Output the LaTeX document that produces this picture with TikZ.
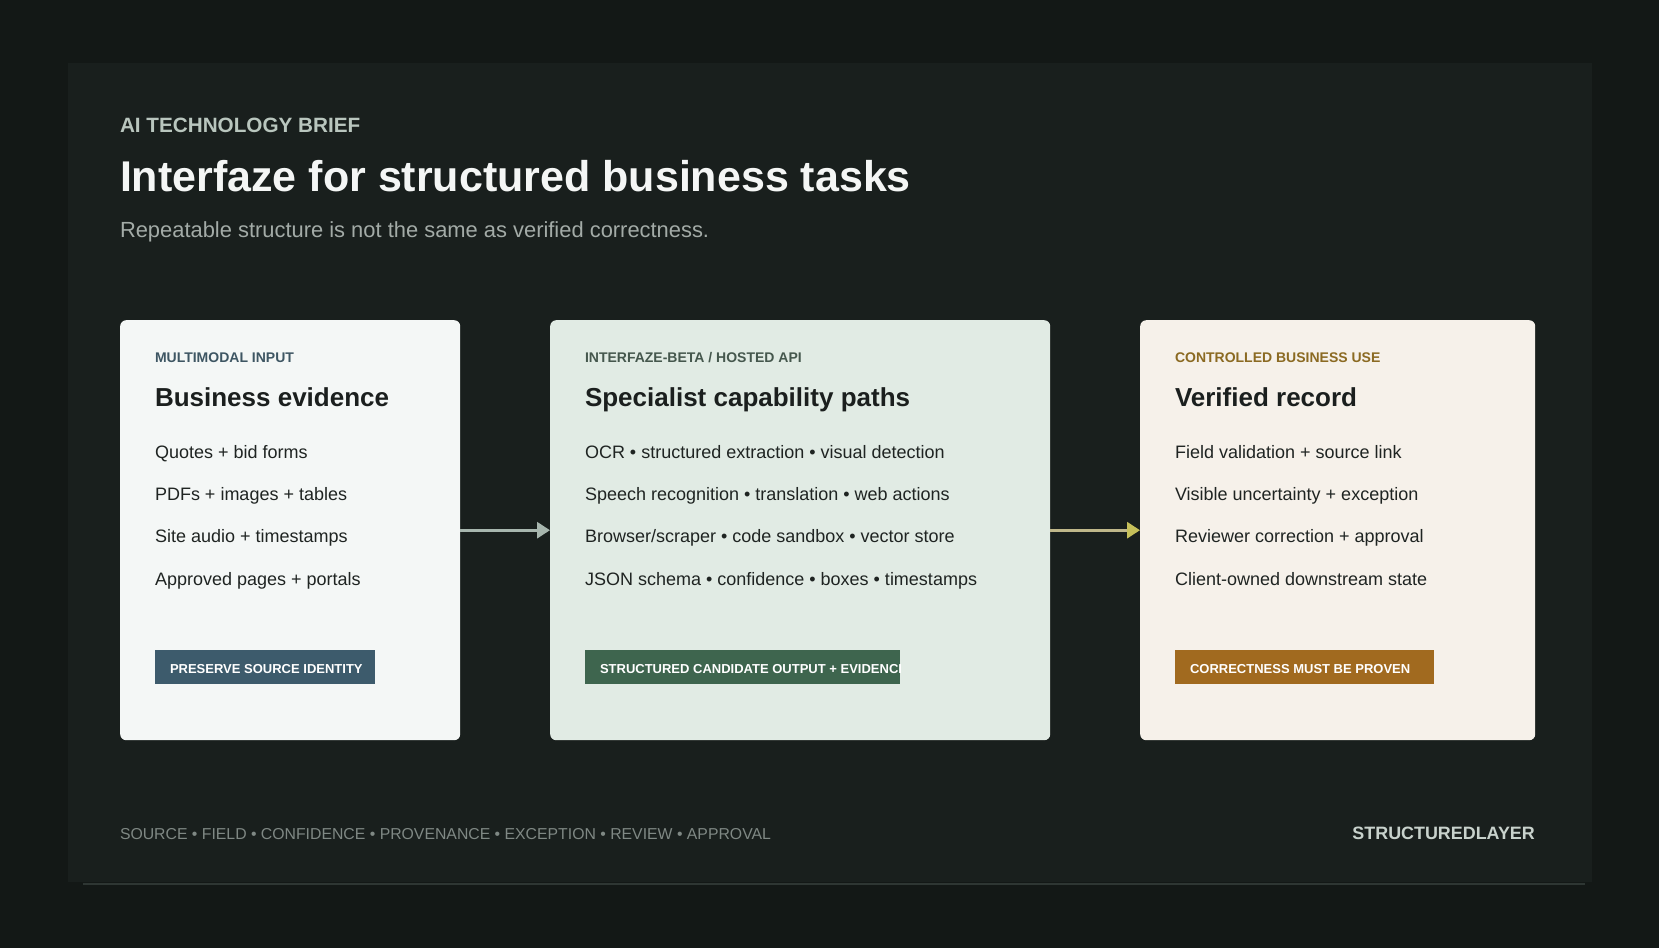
\documentclass[tikz,border=0pt]{standalone}
\usepackage{fontspec}
\setmainfont{Liberation Sans}
\usetikzlibrary{arrows.meta}
\definecolor{bgc}{HTML}{131816}
\definecolor{panelc}{HTML}{191F1D}
\definecolor{panelline}{HTML}{2E3633}
\definecolor{kickerc}{HTML}{B9C6BE}
\definecolor{titlec}{HTML}{F4F6F5}
\definecolor{subc}{HTML}{A3ABA7}
\definecolor{cardA}{HTML}{F4F7F6}
\definecolor{cardB}{HTML}{E1EBE4}
\definecolor{cardC}{HTML}{F6F1EA}
\definecolor{labA}{HTML}{3E5663}
\definecolor{labB}{HTML}{45574D}
\definecolor{labC}{HTML}{8B6A22}
\definecolor{badA}{HTML}{3D5B6C}
\definecolor{badB}{HTML}{3E654E}
\definecolor{badC}{HTML}{A16A1F}
\definecolor{headc}{HTML}{1B1F1E}
\definecolor{itemc}{HTML}{1F2422}
\definecolor{arrA}{HTML}{A7B6AE}
\definecolor{arrBl}{HTML}{BFB78A}
\definecolor{arrBh}{HTML}{C6C05A}
\definecolor{footc}{HTML}{7F8884}
\definecolor{brandc}{HTML}{C8D2CC}
\tikzset{
  txt/.style={anchor=base west, inner sep=0pt, outer sep=0pt},
  card/.style={anchor=north west, rounded corners=6pt, draw=none, minimum width=#1, minimum height=420pt, inner sep=0pt},
  lab/.style={txt, font=\fontsize{14}{16}\selectfont\bfseries},
  head/.style={txt, text=headc, font=\fontsize{26}{30}\selectfont\bfseries},
  item/.style={txt, text=itemc, font=\fontsize{18}{21}\selectfont},
  badge/.style={anchor=north west, minimum height=34pt, inner sep=0pt, draw=none},
  badtxt/.style={txt, text=white, font=\fontsize{13}{15}\selectfont\bfseries},
  flow/.style={line width=3pt, -{Triangle[length=13pt,width=16pt]}},
}
\begin{document}
\begin{tikzpicture}[x=1pt,y=-1pt]
\fill[bgc] (0,0) rectangle (1659,948);
\useasboundingbox (0,0) rectangle (1659,948);
\fill[panelc] (68,63) rectangle (1592,882);
\draw[panelline, line width=1.5pt] (83,884) -- (1585,884);

\node[txt, text=kickerc, font=\fontsize{20.7}{24}\selectfont\bfseries] (kick) at (120,132) {AI TECHNOLOGY BRIEF};
\node[txt, text=titlec, font=\fontsize{43}{50}\selectfont\bfseries] (title) at (120,191) {Interfaze for structured business tasks};
\node[txt, text=subc, font=\fontsize{21.9}{26}\selectfont] (sub) at (120,237) {Repeatable structure is not the same as verified correctness.};

% cards
\node[card=340pt, fill=cardA] (c1) at (120,320) {};
\node[card=500pt, fill=cardB] (c2) at (550,320) {};
\node[card=395pt, fill=cardC] (c3) at (1140,320) {};

\draw[flow, draw=arrA, color=arrA] (c1.east) -- (c2.west);
\draw[flow, draw=arrBl, -{Triangle[length=13pt,width=16pt,fill=arrBh,color=arrBh]}] (c2.east) -- (c3.west);

% card 1
\node[lab, text=labA] (l1) at (155,362) {MULTIMODAL INPUT};
\node[head] (h1) at (155,406.5) {Business evidence};
\node[item] (i11) at (155,458) {Quotes + bid forms};
\node[item] (i12) at (155,500.5) {PDFs + images + tables};
\node[item] (i13) at (155,542.5) {Site audio + timestamps};
\node[item] (i14) at (155,585) {Approved pages + portals};
\node[badge, fill=badA, minimum width=220pt] (b1) at (155,650) {};
\node[badtxt] (t1) at (170,673) {PRESERVE SOURCE IDENTITY};

% card 2
\node[lab, text=labB] (l2) at (585,362) {INTERFAZE-BETA / HOSTED API};
\node[head] (h2) at (585,406.5) {Specialist capability paths};
\node[item] (i21) at (585,458) {OCR • structured extraction • visual detection};
\node[item] (i22) at (585,500.5) {Speech recognition • translation • web actions};
\node[item] (i23) at (585,542.5) {Browser/scraper • code sandbox • vector store};
\node[item] (i24) at (585,585) {JSON schema • confidence • boxes • timestamps};
\node[badge, fill=badB, minimum width=315pt] (b2) at (585,650) {};
\begin{scope}
\clip (585,650) rectangle (900,684);
\node[badtxt] (t2) at (600,673) {STRUCTURED CANDIDATE OUTPUT + EVIDENCE};
\end{scope}

% card 3
\node[lab, text=labC] (l3) at (1175,362) {CONTROLLED BUSINESS USE};
\node[head] (h3) at (1175,406.5) {Verified record};
\node[item] (i31) at (1175,458) {Field validation + source link};
\node[item] (i32) at (1175,500.5) {Visible uncertainty + exception};
\node[item] (i33) at (1175,542.5) {Reviewer correction + approval};
\node[item] (i34) at (1175,585) {Client-owned downstream state};
\node[badge, fill=badC, minimum width=259pt] (b3) at (1175,650) {};
\node[badtxt] (t3) at (1190,673) {CORRECTNESS MUST BE PROVEN};

% footer
\node[txt, text=footc, font=\fontsize{15.8}{18}\selectfont] (foot) at (120,839) {SOURCE • FIELD • CONFIDENCE • PROVENANCE • EXCEPTION • REVIEW • APPROVAL};
\node[anchor=base east, inner sep=0pt, text=brandc, font=\fontsize{17.9}{20}\selectfont\bfseries] (brand) at (1535,839) {STRUCTUREDLAYER};
\end{tikzpicture}
\end{document}
